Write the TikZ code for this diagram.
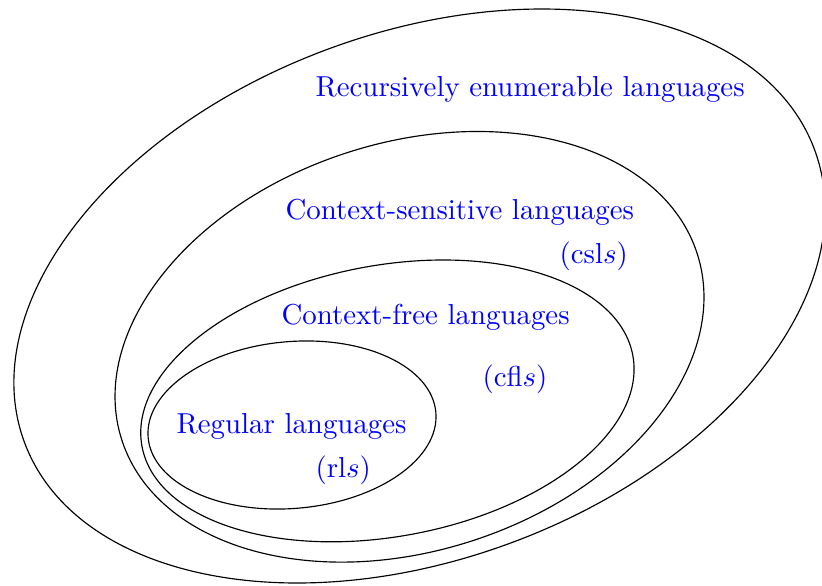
\documentclass[tikz,border=0pt]{standalone}
\begin{document}
\begin{tikzpicture}[x=0.3464pt,y=-0.3464pt,
  lang/.style={text=blue,inner sep=0pt,anchor=base west},
  set/.style={draw=black,line width=0.4pt}]
\useasboundingbox (0,0) rectangle (822,585);
\clip (0,0) rectangle (822,585);
% ellipses (centre, angle, radii in px)
\draw[set,shift={(419.5,296)},rotate=20.3] (0,0) ellipse [x radius={421.3*0.3464pt}, y radius={263.3*0.3464pt}];
\draw[set,shift={(409.5,346.8)},rotate=18] (0,0) ellipse [x radius={302.4*0.3464pt}, y radius={203.9*0.3464pt}];
\draw[set,shift={(387.4,400.9)},rotate=10.5] (0,0) ellipse [x radius={249.6*0.3464pt}, y radius={135.6*0.3464pt}];
\draw[set,shift={(292,425)},rotate=5] (0,0) ellipse [x radius={144.4*0.3464pt}, y radius={83.4*0.3464pt}];
% labels
\node[lang] (re) at (315,96) {Recursively enumerable languages};
\node[lang] (cs) at (285,219) {Context-sensitive languages};
\node[lang] (csl) at (559,263) {(csl$s$)};
\node[lang] (cf) at (281,324) {Context-free languages};
\node[lang] (cfl) at (482,386) {(cfl$s$)};
\node[lang] (rg) at (176,433) {Regular languages};
\node[lang] (rl) at (315,477) {(rl$s$)};
\end{tikzpicture}
\end{document}
